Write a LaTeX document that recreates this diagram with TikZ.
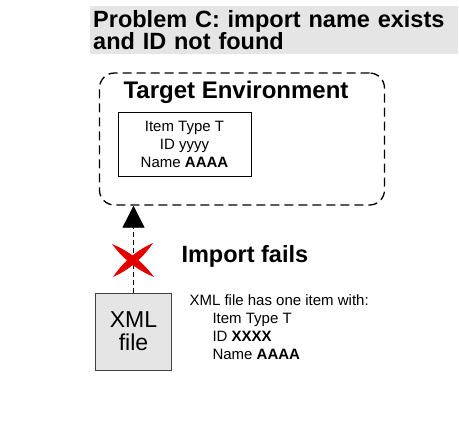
\documentclass[tikz,border=0pt]{standalone}
\usepackage{fontspec}
\setmainfont{Liberation Sans}
\usetikzlibrary{arrows.meta}
\definecolor{boxgray}{gray}{0.9}
\definecolor{crossred}{RGB}{228,0,0}
\begin{document}
\begin{tikzpicture}[
  x=1pt,
  y=-1pt,
  graybox/.style={draw=black!75, fill=boxgray, line width=0.8pt},
  itemtext/.style={font=\fontsize{15}{18}\selectfont},
  bigtext/.style={font=\fontsize{23.5}{22.5}\selectfont\bfseries}
]
\useasboundingbox (0,0) rectangle (459,424);
\node[fill=boxgray, anchor=north west, text width=362pt, inner xsep=3pt, inner ysep=4pt,
  align=left, bigtext] (title) at (90,6) {Problem C: import name exists\\and ID not found};
\node[draw, line width=1.3pt, dash pattern=on 9pt off 5pt, rounded corners=15pt,
  minimum width=285pt, minimum height=132pt] (env) at (242,139) {};
\node[bigtext, font=\fontsize{24}{24}\selectfont\bfseries, anchor=base] (envlabel)
  at (236,98) {Target Environment};
\node[draw, line width=0.8pt, itemtext, align=center, minimum width=133pt,
  minimum height=64pt] (item) at (184.5,144) {Item Type T\\ID yyyy\\Name \textbf{AAAA}};
\node[graybox, minimum width=76pt, minimum height=77pt, align=center,
  font=\fontsize{23}{23}\selectfont] (xml) at (133.5,331.5) {XML\\file};
\draw[line width=0.8pt, dash pattern=on 5pt off 3pt, -{Triangle[width=22pt,length=22pt]}]
  (xml.north) -- (xml.north |- env.south);
\fill[crossred] (112,244) .. controls (129,251) and (143,262) .. (154,277)
  .. controls (137,270) and (123,259) .. cycle;
\fill[crossred] (153,243) .. controls (143,258) and (129,270) .. (113,277)
  .. controls (123,262) and (137,250) .. cycle;
\node[bigtext, anchor=base west] (fails) at (178,262) {Import fails};
\node[itemtext, anchor=north west, align=left] (desc) at (186,291)
  {XML file has one item with:\\
   \hspace*{23pt}Item Type T\\
   \hspace*{23pt}ID \textbf{XXXX}\\
   \hspace*{23pt}Name \textbf{AAAA}};
\end{tikzpicture}
\end{document}
